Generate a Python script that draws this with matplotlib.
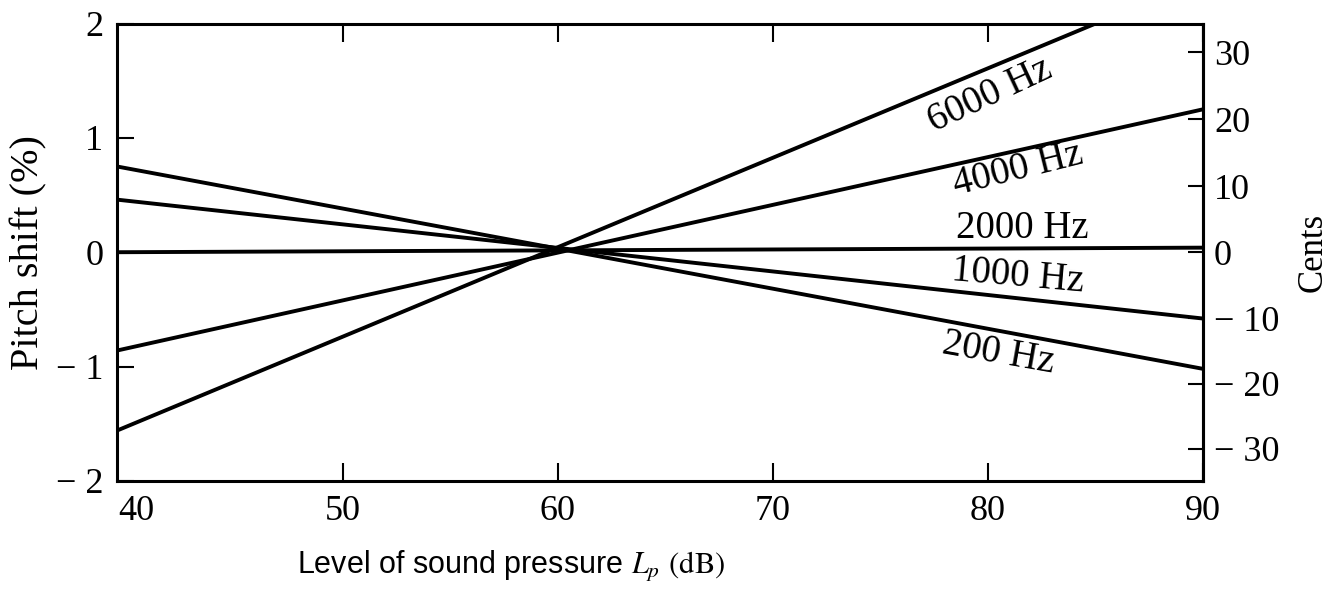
import matplotlib
matplotlib.use("Agg")
import matplotlib.pyplot as plt
import numpy as np

plt.rcParams['mathtext.fontset'] = 'stix'

# pitch shift (%) at the two ends of each line
freq_labels = ["200 Hz", "1000 Hz", "2000 Hz", "4000 Hz", "6000 Hz"]
level_start = [39.5, 39.5, 39.5, 39.5, 39.5]
level_end = [90, 90, 90, 90, 85]
shift_start = [0.75, 0.46, 0.0, -0.86, -1.56]
shift_end = [-1.02, -0.58, 0.04, 1.25, 2.0]

# where the labels sit (dB, %) and their tilt
label_x = [80.5, 81.4, 81.6, 81.4, 80.1]
label_y = [-0.89, -0.21, 0.21, 0.72, 1.37]
label_rot = [-10, -5, 0, 14, 25]

x_ticks = [50, 60, 70, 80, 90]
x_ticklabels = ["50", "60", "70", "80", "90"]
y_ticks = [-2, -1, 0, 1, 2]
cent_ticks = [-30, -20, -10, 0, 10, 20, 30]

serif = ['Liberation Serif', 'DejaVu Serif']


def minus(v):
    return ("\u2212 " + str(abs(v))) if v < 0 else str(v)


def pct_to_cents(p):
    return 1200 * np.log2(1 + np.asarray(p) / 100.0)


def cents_to_pct(c):
    return 100 * (2 ** (np.asarray(c) / 1200.0) - 1)


fig = plt.figure(figsize=(13.36, 5.9), dpi=100)
ax = fig.add_axes([0.0876, 0.185, 0.8128, 0.775])

for xs, xe, ys, ye in zip(level_start, level_end, shift_start, shift_end):
    ax.plot([xs, xe], [ys, ye], color='black', lw=2.8, solid_capstyle='butt')

for t, x, y, r in zip(freq_labels, label_x, label_y, label_rot):
    ax.text(x, y, t, rotation=r, ha='center', va='center', fontsize=28,
            family=serif, rotation_mode='anchor')

ax.set_xlim(39.5, 90)
ax.set_ylim(-2, 2)

ax.set_xticks(x_ticks)
ax.set_xticklabels(x_ticklabels, family=serif, fontsize=26)
ax.set_yticks(y_ticks)
ax.set_yticklabels([minus(v) for v in y_ticks], family=serif, fontsize=26)
ax.tick_params(axis='x', direction='in', length=13, width=1.5, pad=10, top=True)
ax.tick_params(axis='y', direction='in', length=12, width=1.5, pad=10)
ax.text(39.55, -2.12, "40", ha='left', va='top', family=serif, fontsize=26)
for s in ax.spines.values():
    s.set_linewidth(2.2)

sec = ax.secondary_yaxis('right', functions=(pct_to_cents, cents_to_pct))
sec.set_yticks(cent_ticks)
sec.set_yticklabels([minus(v) for v in cent_ticks], family=serif, fontsize=26)
sec.tick_params(direction='in', length=11, width=1.5, pad=8)
sec.spines['right'].set_linewidth(2.2)
sec.set_ylabel("Cents", family=serif, fontsize=25, labelpad=12)

ax.set_ylabel("Pitch shift (%)", family=serif, fontsize=29, labelpad=6)

ax.set_xlabel(r"Level of sound pressure $L_p$ $\mathrm{(dB)}$", fontsize=22,
              family=['Liberation Sans Narrow', 'Liberation Sans', 'DejaVu Sans'])
ax.xaxis.set_label_coords(0.363, -0.15)

fig.savefig("out.png", dpi=100, facecolor='white')
